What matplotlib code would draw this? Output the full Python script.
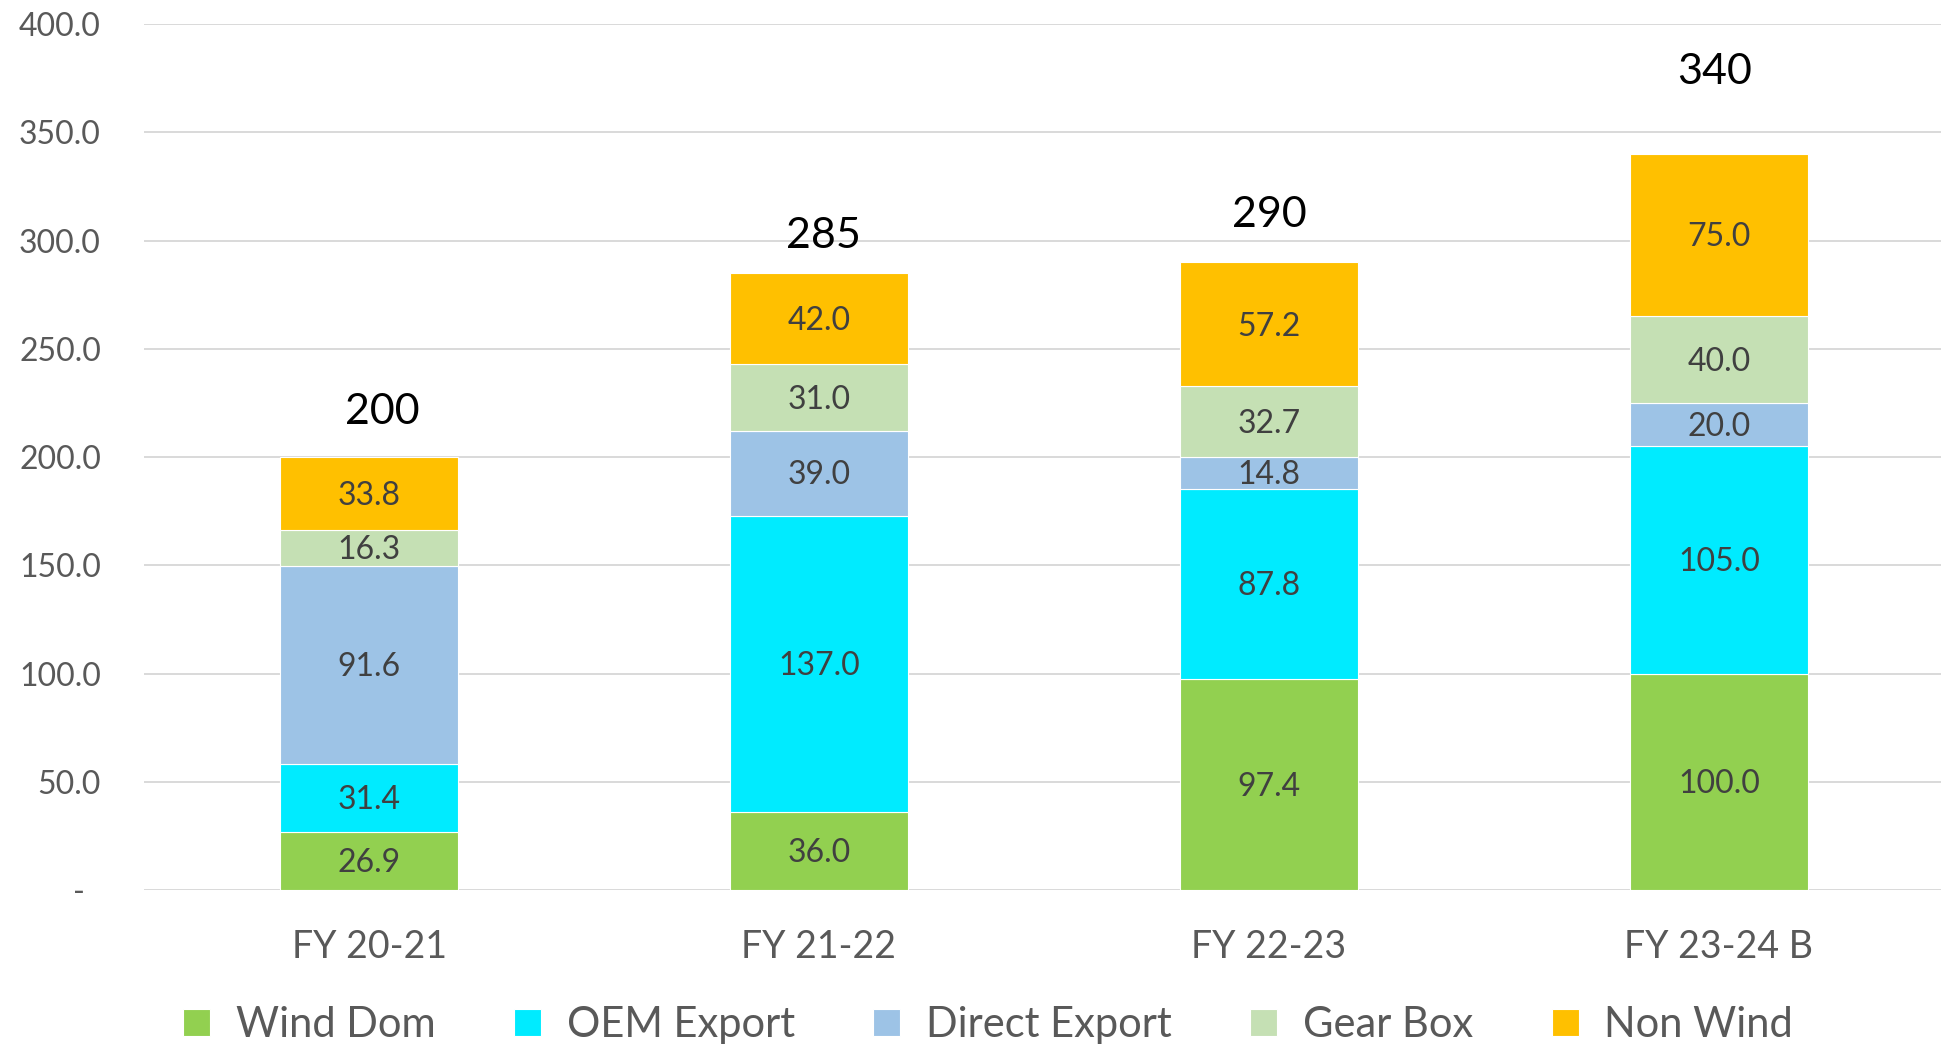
import matplotlib.pyplot as plt
import numpy as np

plt.rcParams['font.family'] = ['Lato', 'DejaVu Sans']

years = ["FY 20-21", "FY 21-22", "FY 22-23", "FY 23-24 B"]
series = ["Wind Dom", "OEM Export", "Direct Export", "Gear Box", "Non Wind"]

wind_dom = [26.9, 36.0, 97.4, 100.0]
oem_export = [31.4, 137.0, 87.8, 105.0]
direct_export = [91.6, 39.0, 14.8, 20.0]
gear_box = [16.3, 31.0, 32.7, 40.0]
non_wind = [33.8, 42.0, 57.2, 75.0]

totals = [200, 285, 290, 340]
yticks = [0, 50, 100, 150, 200, 250, 300, 350, 400]

colors = ["#92D050", "#00EBFF", "#9DC3E6", "#C5E0B4", "#FFC000"]
# the total labels sit at uneven heights above the bars in the original
total_offsets = [21, 17, 22, 38]
total_dx = [0.03, 0.011, 0.0, -0.01]

fig = plt.figure(figsize=(19.41, 10.46), dpi=100)
ax = fig.add_axes([0.0742, 0.1491, 0.9273, 0.8279])

x = np.arange(len(years))
bottom = np.zeros(len(years))
for name, vals, c in zip(series, [wind_dom, oem_export, direct_export, gear_box, non_wind], colors):
    vals = np.array(vals)
    ax.bar(x, vals, width=0.396, bottom=bottom, color=c, label=name,
           edgecolor="white", linewidth=0.8, zorder=3)
    for xi, b, v in zip(x, bottom, vals):
        ax.text(xi, b + v / 2 - 1, "%.1f" % v, ha="center", va="center",
                fontsize=23, color="#404040", zorder=4)
    bottom += vals

for xi, t, off, dx in zip(x, totals, total_offsets, total_dx):
    ax.text(xi + dx, t + off, str(t), ha="center", va="center", fontsize=31, color="black")

ax.set_xlim(-0.5, 3.5)
ax.set_ylim(0, 400)
ax.set_yticks(yticks)
ax.set_yticklabels(["%.1f" % v if v else "-  " for v in yticks])
ax.set_xticks(x)
ax.set_xticklabels(years)
ax.tick_params(axis="y", length=0, pad=31, labelsize=23, labelcolor="#595959")
ax.tick_params(axis="x", length=0, pad=28, labelsize=27, labelcolor="#595959")
ax.grid(axis="y", color="#D9D9D9", linewidth=1.4)
ax.set_axisbelow(True)
for s in ax.spines.values():
    s.set_visible(False)

fig.legend(loc="center", bbox_to_anchor=(0.509, 0.020), ncol=5, frameon=False,
           fontsize=30, labelcolor="#595959", handlelength=0.65, handleheight=0.65,
           handletextpad=0.62, columnspacing=1.88, borderpad=0)

fig.savefig("out.png")
